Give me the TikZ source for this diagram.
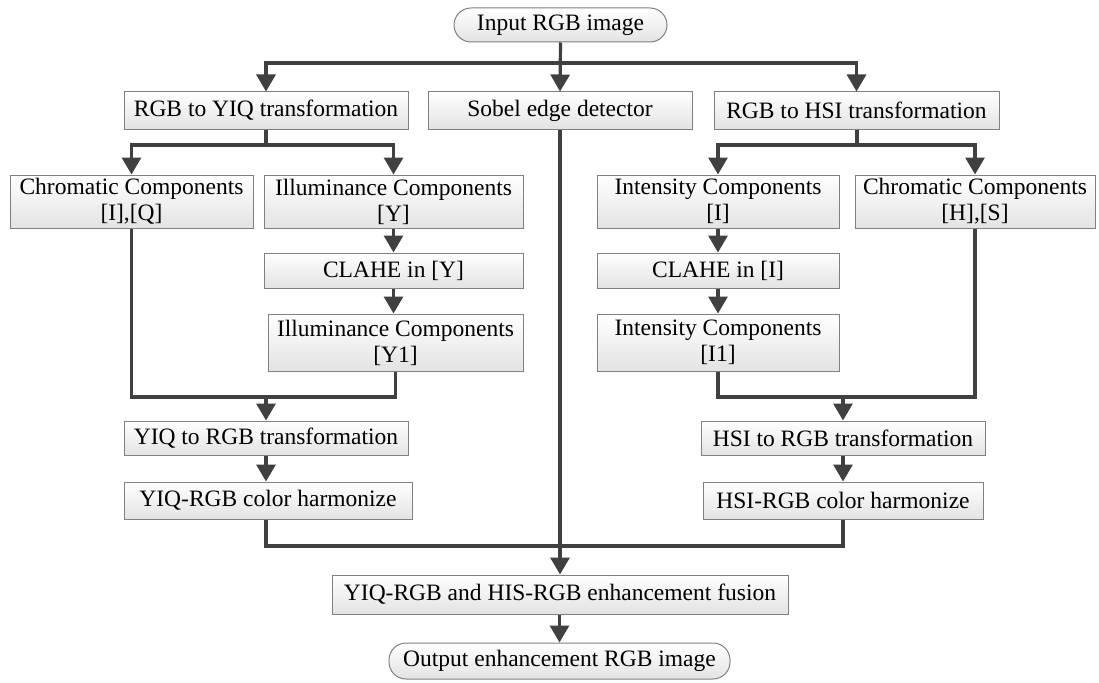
\documentclass[tikz,border=0pt]{standalone}
\usepackage{fontspec}
\setmainfont{Liberation Serif}
\usetikzlibrary{arrows.meta}
\definecolor{lncol}{HTML}{404040}
\definecolor{bdcol}{HTML}{808080}
\begin{document}
\begin{tikzpicture}[x=1pt,y=-1pt,
  box/.style={draw=bdcol, line width=1pt, top color=white, bottom color=black!11,
    inner sep=0pt, align=center, font=\fontsize{23.5}{26}\selectfont},
  term/.style={box, rounded corners=17pt},
  ln/.style={draw=lncol, line width=3.2pt},
  arr/.style={ln, -{Triangle[width=19pt,length=17pt]}}]
\useasboundingbox (0,0) rectangle (1099,682);
\fill[white] (0,0) rectangle (1099,682);
% nodes
\node[term, minimum width=213, minimum height=34] (in) at (560.5,25) {Input RGB image};
\node[box, minimum width=284, minimum height=37] (yiq) at (266,110.5) {RGB to YIQ transformation};
\node[box, minimum width=264, minimum height=37] (sob) at (560,110.5) {Sobel edge detector};
\node[box, minimum width=285, minimum height=37] (hsi) at (856.5,110.5) {RGB to HSI transformation};
\node[box, minimum width=243, minimum height=53] (cIQ) at (131.5,201.5) {Chromatic Components\\{}[I],[Q]};
\node[box, minimum width=259, minimum height=53] (iY) at (393.5,201.5) {Illuminance Components\\{}[Y]};
\node[box, minimum width=259, minimum height=35] (clY) at (393.5,270.5) {CLAHE in [Y]};
\node[box, minimum width=255, minimum height=57] (y1) at (395.5,342.5) {Illuminance Components\\{}[Y1]};
\node[box, minimum width=242, minimum height=53] (iI) at (718,201.5) {Intensity Components\\{}[I]};
\node[box, minimum width=242, minimum height=35] (clI) at (718,270.5) {CLAHE in [I]};
\node[box, minimum width=242, minimum height=57] (i1) at (718,342.5) {Intensity Components\\{}[I1]};
\node[box, minimum width=240, minimum height=53] (cHS) at (975,201.5) {Chromatic Components\\{}[H],[S]};
\node[box, minimum width=284, minimum height=34] (y2r) at (266,438) {YIQ to RGB transformation};
\node[box, minimum width=288, minimum height=37] (yh) at (268,500.5) {YIQ-RGB color harmonize};
\node[box, minimum width=284, minimum height=34] (h2r) at (843,438) {HSI to RGB transformation};
\node[box, minimum width=280, minimum height=37] (hh) at (843,500.5) {HSI-RGB color harmonize};
\node[box, minimum width=456, minimum height=39] (fus) at (560,594.5) {YIQ-RGB and HIS-RGB enhancement fusion};
\node[term, minimum width=341, minimum height=36] (out) at (559.5,661) {Output enhancement RGB image};
% junctions
\coordinate (s0) at (560,63);
\coordinate (s1) at (266,145);
\coordinate (s2) at (857,145);
\coordinate (j1) at (266,397);
\coordinate (j2) at (843,397);
\coordinate (j3) at (560,546);
% connectors
\draw[arr] (in.south) -- (sob.north);
\draw[arr] (s0) -| (yiq.north);
\draw[arr] (s0) -| (hsi.north);
\draw[ln] (yiq.south) -- (s1);
\draw[arr] (s1) -| (cIQ.north);
\draw[arr] (s1) -| (iY.north);
\draw[arr] (iY.south) -- (clY.north);
\draw[arr] (clY.south) -- (clY.south |- y1.north);
\draw[ln] (hsi.south -| s2) -- (s2);
\draw[arr] (s2) -| (iI.north);
\draw[arr] (s2) -| (cHS.north);
\draw[arr] (iI.south) -- (clI.north);
\draw[arr] (clI.south) -- (i1.north);
\draw[ln] (cIQ.south) |- (j1) -| (y1.south);
\draw[arr] (j1) -- (y2r.north);
\draw[ln] (i1.south) |- (j2) -| (cHS.south);
\draw[arr] (j2) -- (h2r.north);
\draw[arr] (y2r.south) -- (y2r.south |- yh.north);
\draw[arr] (h2r.south) -- (hh.north);
\draw[ln] (yh.south -| y2r.south) |- (j3) -| (hh.south);
\draw[arr] (sob.south) -- (fus.north);
\draw[arr] (fus.south -| out.north) -- (out.north);
\end{tikzpicture}
\end{document}
